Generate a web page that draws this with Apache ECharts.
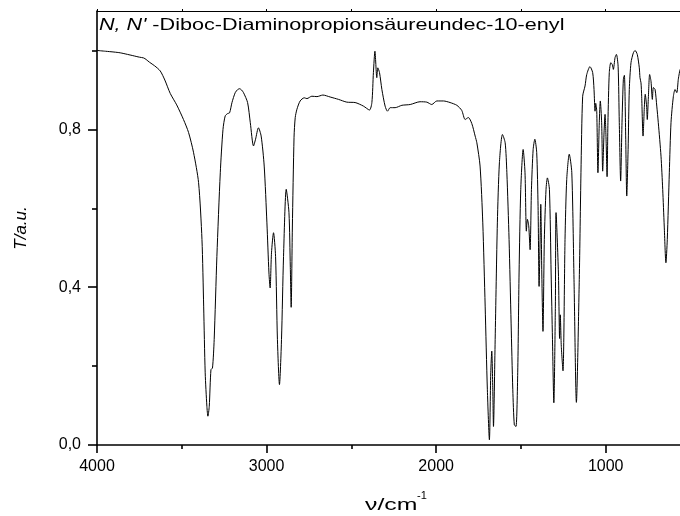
<!DOCTYPE html>
<html>
<head>
<meta charset="utf-8">
<script src="https://cdn.jsdelivr.net/npm/echarts@6/dist/echarts.min.js"></script>
<style>html,body{margin:0;padding:0;background:#fff}#c{width:680px;height:516px}</style>
</head>
<body>
<div id="c"></div>
<script>
const wavenumbers = [4000,3950,3900,3863,3820,3780,3750,3725,3710,3690,3660,3627,3600,3568,3530,3490,3460,3431,3401,3381,3371,3362,3352,3346,3338,3328,3319,3309,3293,3273,3257,3244,3230,3218,3204,3185,3170,3159,3148,3136,3112,3096,3077,3065,3048,3032,3014,2998,2986,2979,2971,2959,2947,2936,2924,2912,2900,2884,2868,2860,2855,2848,2838,2831,2821,2802,2778,2762,2733,2703,2668,2625,2576,2527,2478,2429,2393,2379,2370,2361,2350,2344,2334,2320,2301,2287,2271,2242,2202,2153,2095,2055,2026,1996,1957,1918,1878,1849,1829,1810,1790,1770,1760,1741,1725,1711,1698,1686,1678,1672,1666,1662,1652,1639,1627,1609,1593,1583,1570,1558,1548,1539,1529,1519,1511,1501,1487,1476,1468,1462,1454,1446,1438,1428,1418,1407,1399,1393,1387,1383,1377,1370,1362,1352,1344,1332,1322,1314,1306,1297,1293,1279,1272,1268,1262,1252,1240,1230,1215,1200,1187,1173,1156,1146,1136,1122,1112,1093,1077,1069,1063,1059,1053,1046,1038,1032,1024,1018,1010,1004,998,992,987,979,970,961,955,945,937,927,920,912,904,896,890,882,876,868,861,851,837,827,814,802,798,792,788,780,772,767,759,755,749,741,733,725,719,709,699,690,674,664,655,645,637,625,615,601,591,581,572,562];
const transmittance = [1.000,0.998,0.996,0.994,0.990,0.986,0.983,0.981,0.977,0.970,0.961,0.948,0.925,0.891,0.862,0.825,0.792,0.742,0.665,0.521,0.352,0.183,0.098,0.073,0.098,0.191,0.195,0.267,0.478,0.690,0.800,0.834,0.840,0.842,0.868,0.893,0.901,0.903,0.900,0.893,0.868,0.817,0.758,0.775,0.804,0.783,0.707,0.563,0.436,0.398,0.487,0.538,0.478,0.267,0.153,0.267,0.478,0.648,0.589,0.450,0.349,0.550,0.780,0.830,0.851,0.872,0.880,0.878,0.884,0.883,0.887,0.882,0.876,0.869,0.868,0.859,0.849,0.868,0.944,0.998,0.931,0.956,0.944,0.901,0.859,0.846,0.855,0.855,0.861,0.863,0.870,0.869,0.863,0.872,0.872,0.868,0.861,0.848,0.825,0.830,0.815,0.783,0.766,0.707,0.563,0.352,0.140,0.013,0.183,0.238,0.140,0.047,0.267,0.563,0.715,0.787,0.766,0.690,0.521,0.309,0.140,0.051,0.047,0.183,0.436,0.648,0.749,0.690,0.542,0.572,0.555,0.495,0.648,0.749,0.775,0.741,0.605,0.402,0.521,0.610,0.436,0.288,0.521,0.648,0.677,0.648,0.436,0.267,0.107,0.352,0.589,0.436,0.270,0.330,0.250,0.188,0.521,0.673,0.737,0.690,0.419,0.108,0.419,0.690,0.884,0.910,0.939,0.959,0.944,0.901,0.846,0.866,0.846,0.690,0.817,0.872,0.817,0.694,0.791,0.838,0.775,0.680,0.817,0.944,0.969,0.964,0.952,0.982,0.990,0.960,0.817,0.669,0.817,0.927,0.937,0.775,0.631,0.749,0.901,0.969,0.994,1.000,0.990,0.956,0.931,0.918,0.884,0.783,0.859,0.889,0.859,0.825,0.876,0.939,0.922,0.876,0.906,0.901,0.859,0.817,0.732,0.648,0.555,0.462,0.521,0.690,0.817,0.884,0.901,0.893,0.927,0.952];
const xMajorTicks = [1000,2000,3000,4000];
const xMinorTicks = [1500,2500,3500];
const yMajorTicks = [0,0.4,0.8];
const yMinorTicks = [0.2,0.6,1.0];
const titleItalic = "N, N'";
const titleRest = " -Diboc-Diaminopropionsäureundec-10-enyl";
const xAxisTitle = "ν/cm";
const xAxisTitleSup = "-1";
const yAxisTitle = "T/a.u.";

const FONT = 'Liberation Sans, Arial, sans-serif';
const points = wavenumbers.map((w, i) => [w, transmittance[i]]);
const X_MIN = 562, X_MAX = 4000, Y_MIN = 0, Y_MAX = 1.1;
const axisCol = '#000';

const chart = echarts.init(document.getElementById('c'), null, {renderer: 'canvas'});
chart.setOption({
  animation: false,
  backgroundColor: '#fff',
  graphic: [
    {
      type: 'text', x: 99, y: 25.5, scaleX: 1.31, silent: true,
      style: {
        text: '{i|' + titleItalic + '}{r|' + titleRest + '}',
        align: 'left', verticalAlign: 'middle', fill: '#000',
        rich: {
          i: {fontFamily: FONT, fontSize: 16.5, fontStyle: 'italic', fill: '#000'},
          r: {fontFamily: FONT, fontSize: 16.5, fill: '#000'}
        }
      }
    },
    {
      type: 'text', x: 365, y: 505.5, scaleX: 1.55, silent: true,
      style: {text: xAxisTitle, fontFamily: FONT, fontSize: 16, fill: '#000', align: 'left', verticalAlign: 'middle'}
    },
    {
      type: 'text', x: 417, y: 496, silent: true,
      style: {text: xAxisTitleSup, fontFamily: FONT, fontSize: 11, fill: '#000', align: 'left', verticalAlign: 'middle'}
    }
  ],
  grid: {left: 97, right: 0, top: 11, bottom: 71, containLabel: false, outerBoundsMode: 'none'},
  xAxis: [
    {
      type: 'value', inverse: true, min: X_MIN, max: X_MAX, position: 'bottom',
      axisLine: {show: true, onZero: false, lineStyle: {color: axisCol, width: 1.6}},
      axisTick: {show: true, inside: false, length: 8, customValues: xMajorTicks, lineStyle: {color: axisCol, width: 1.6}},
      axisLabel: {customValues: xMajorTicks, margin: 14, fontFamily: FONT, fontSize: 16, color: '#000', formatter: v => String(v)},
      splitLine: {show: false}
    },
    {
      type: 'value', inverse: true, min: X_MIN, max: X_MAX, position: 'bottom',
      axisLine: {show: false, onZero: false},
      axisTick: {show: true, inside: false, length: 4, customValues: xMinorTicks, lineStyle: {color: axisCol, width: 1.6}},
      axisLabel: {show: false},
      splitLine: {show: false}
    },
    {
      type: 'value', inverse: true, min: X_MIN, max: X_MAX, position: 'top',
      axisLine: {show: true, onZero: false, lineStyle: {color: axisCol, width: 1.2}},
      axisTick: {show: true, inside: false, length: 2, customValues: xMajorTicks.concat(xMinorTicks), lineStyle: {color: axisCol, width: 1}},
      axisLabel: {show: false},
      splitLine: {show: false}
    }
  ],
  yAxis: [
    {
      type: 'value', min: Y_MIN, max: Y_MAX, position: 'left',
      name: yAxisTitle, nameLocation: 'middle', nameGap: 67, nameRotate: 90,
      nameTextStyle: {fontFamily: FONT, fontSize: 17, fontStyle: 'italic', color: '#000'},
      axisLine: {show: true, onZero: false, lineStyle: {color: axisCol, width: 1.6}},
      axisTick: {show: true, inside: false, length: 9, customValues: yMajorTicks, lineStyle: {color: axisCol, width: 1.6}},
      axisLabel: {customValues: yMajorTicks, margin: 16, fontFamily: FONT, fontSize: 16, color: '#000',
        formatter: v => Number(v).toFixed(1).replace('.', ',')},
      splitLine: {show: false}
    },
    {
      type: 'value', min: Y_MIN, max: Y_MAX, position: 'left',
      axisLine: {show: false, onZero: false},
      axisTick: {show: true, inside: false, length: 5, customValues: yMinorTicks, lineStyle: {color: axisCol, width: 1.6}},
      axisLabel: {show: false},
      splitLine: {show: false}
    }
  ],
  series: [{
    type: 'line', xAxisIndex: 0, yAxisIndex: 0,
    data: points, showSymbol: false, symbol: 'none', smooth: 0.25,
    lineStyle: {color: '#000', width: 1}
  }]
});
</script>
</body>
</html>
